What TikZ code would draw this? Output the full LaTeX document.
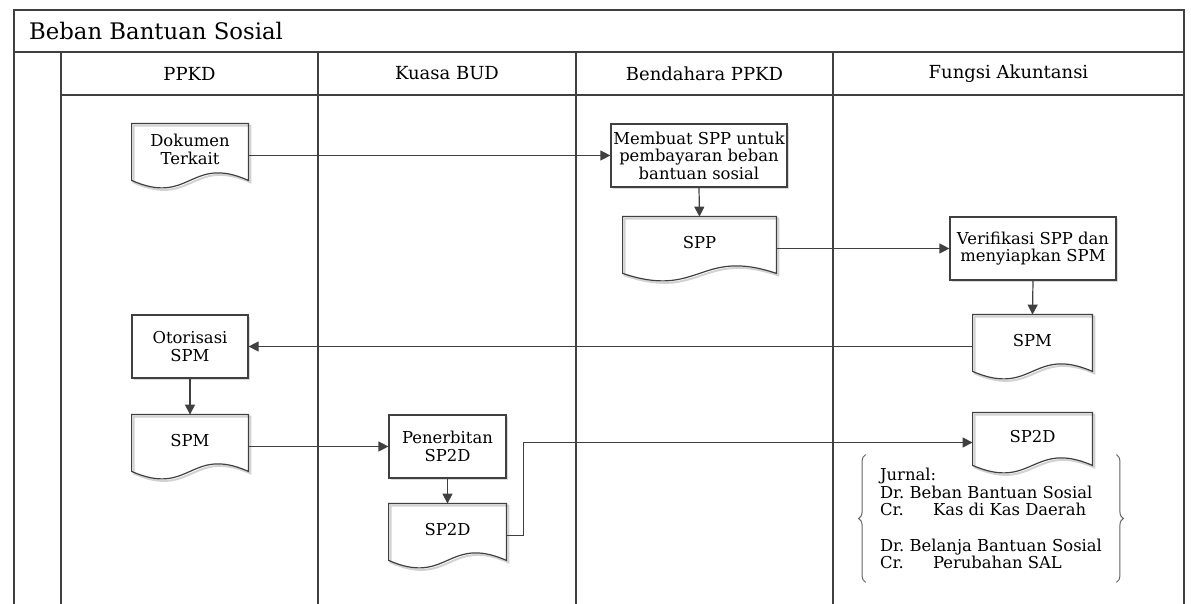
\documentclass[tikz,border=0pt]{standalone}
\usepackage{fontspec}
\setmainfont{DejaVu Serif}
\usepackage{tikz}
\usetikzlibrary{arrows.meta,shadows,decorations.pathreplacing}
\frenchspacing

% bentuk dokumen (persegi dengan dasar bergelombang)
\newcommand{\docshape}[1]{%
  \draw[gray!35,line width=1pt,transform canvas={shift={(1pt,-1pt)}}]
    (#1.north west) -- (#1.north east) -- ([yshift=-2.5pt]#1.south east)
    .. controls ([yshift=10.5pt]#1.south) and ([yshift=-15.5pt]#1.south) .. ([yshift=-2.5pt]#1.south west) -- cycle;
  \draw[draw=black!75,line width=0.6pt]
    (#1.north west) -- (#1.north east) -- ([yshift=-2.5pt]#1.south east)
    .. controls ([yshift=10.5pt]#1.south) and ([yshift=-15.5pt]#1.south) .. ([yshift=-2.5pt]#1.south west) -- cycle;}

\begin{document}
\begin{tikzpicture}[x=0.5pt,y=-0.5pt,
		line_style/.style={draw=black!75,line width=0.6pt},
		box_style/.style={rectangle,line_style,fill=white,align=center,inner sep=1pt,font=\fontsize{8.2}{8.8}\selectfont,
			drop shadow={shadow xshift=1pt,shadow yshift=-1pt,fill=gray!30,draw=none,opacity=1}},
		doc_style/.style={rectangle,align=center,inner sep=1pt,font=\fontsize{8.2}{8.8}\selectfont},
		lane_style/.style={font=\fontsize{9}{10}\selectfont},
		edge_style/.style={line_style,-{Triangle[length=5pt,width=5pt]}},
		brace_style/.style={draw=black!60,line width=0.5pt,decorate,decoration={brace,amplitude=3.5pt}}]

		\useasboundingbox (0,0) rectangle (1191,604);

		% kerangka
		\draw[line_style] (14,604) -- (14,10) -- (1184,10) -- (1184,604);
		\draw[line_style] (14,52) -- (1184,52);
		\draw[line_style] (61,95) -- (1184,95);
		\foreach \x in {61,318,576,833} \draw[line_style] (\x,52) -- (\x,604);

		\node[anchor=west,font=\fontsize{11.4}{13}\selectfont] (judul) at (22,31) {Beban Bantuan Sosial};
		\node[lane_style] (l1) at (189.5,73.5) {PPKD};
		\node[lane_style] (l2) at (447,73.5) {Kuasa BUD};
		\node[lane_style] (l3) at (704.5,73.5) {Bendahara PPKD};
		\node[lane_style] (l4) at (1008.5,73.5) {Fungsi Akuntansi};

		% proses
		\node[box_style,minimum width=88pt,minimum height=31.5pt] (buat) at (699,155.5) {Membuat SPP untuk\\pembayaran beban\\bantuan sosial};
		\node[box_style,minimum width=83pt,minimum height=31.5pt] (verif) at (1033,248.5) {Verifikasi SPP dan\\menyiapkan SPM};
		\node[box_style,minimum width=58pt,minimum height=31.5pt] (otor) at (190,346.5) {Otorisasi\\SPM};
		\node[box_style,minimum width=58.5pt,minimum height=31.5pt] (terbit) at (447.5,446.5) {Penerbitan\\SP2D};

		% dokumen
		\node[doc_style,minimum width=58pt,minimum height=25.5pt] (dok) at (190,149.5) {Dokumen\\Terkait};
		\node[doc_style,minimum width=76.5pt,minimum height=25.5pt] (spp) at (699.5,242.5) {SPP};
		\node[doc_style,minimum width=59.5pt,minimum height=25.5pt] (spm1) at (1032.5,340.5) {SPM};
		\node[doc_style,minimum width=58pt,minimum height=25.5pt] (spm2) at (190,440.5) {SPM};
		\node[doc_style,minimum width=58.5pt,minimum height=25.5pt] (sp2d1) at (447.5,529.5) {SP2D};
		\node[doc_style,minimum width=59.5pt,minimum height=23.5pt] (sp2d2) at (1032.5,436.5) {SP2D};
		\foreach \d in {dok,spp,spm1,spm2,sp2d1,sp2d2} {\docshape{\d}}

		% jurnal
		\node[doc_style,align=left,inner sep=0pt,minimum width=125pt,minimum height=63.5pt] (jur) at (991,518.5)
			{Jurnal:\\Dr. Beban Bantuan Sosial\\\makebox[26.5pt][l]{Cr.}Kas di Kas Daerah\\[8.8pt]Dr. Belanja Bantuan Sosial\\\makebox[26.5pt][l]{Cr.}Perubahan SAL};
		\draw[brace_style] (jur.south west) -- (jur.north west);
		\draw[brace_style] (jur.north east) -- (jur.south east);

		% alur
		\draw[edge_style] (dok.east |- buat.west) -- (buat.west);
		\draw[edge_style] (buat.south) -- (spp.north);
		\draw[edge_style] (spp.east |- verif.west) -- (verif.west);
		\draw[edge_style] (verif.south) -- (spm1.north);
		\draw[edge_style] (spm1.west |- otor.east) -- (otor.east);
		\draw[edge_style] (otor.south) -- (spm2.north);
		\draw[edge_style] (spm2.east |- terbit.west) -- (terbit.west);
		\draw[edge_style] (terbit.south) -- (sp2d1.north);
		\draw[edge_style] ([yshift=-3pt]sp2d1.east) -- ++(8.5pt,0) |- ([yshift=-3pt]sp2d2.west);

		\end{tikzpicture}
\end{document}
